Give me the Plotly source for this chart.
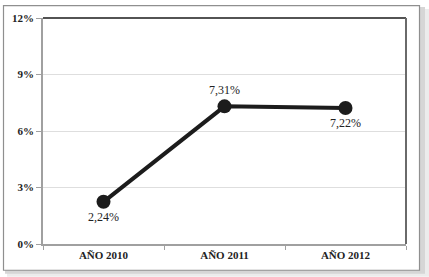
import plotly.graph_objects as go

categories = ["AÑO 2010", "AÑO 2011", "AÑO 2012"]
values = [2.24, 7.31, 7.22]
labels = ["2,24%", "7,31%", "7,22%"]
label_positions = ["bottom center", "top center", "bottom center"]
y_ticks = [0, 3, 6, 9, 12]
y_tick_labels = ["0%", "3%", "6%", "9%", "12%"]

W, H = 429, 277
L, R, T, B = 43, 406, 16, 244
SERIF = "Liberation Serif, Times New Roman, serif"


def px(x):
    return (x - L) / (R - L)


def py(y):
    return (B - y) / (B - T)


fig = go.Figure()
fig.add_trace(go.Scatter(
    x=categories, y=values, mode="lines+markers+text",
    line=dict(color="#1c1c1c", width=4),
    marker=dict(size=14, color="#1c1c1c"),
    text=labels, textposition=label_positions,
    textfont=dict(family=SERIF, size=12, color="#222222"),
    cliponaxis=False, hoverinfo="skip",
))

shapes = [
    # shadow
    dict(type="rect", xref="paper", yref="paper", x0=px(7), x1=px(429), y0=py(7), y1=py(277),
         fillcolor="#ececec", line=dict(width=0), layer="below"),
    dict(type="rect", xref="paper", yref="paper", x0=px(5), x1=px(425), y0=py(5), y1=py(274),
         fillcolor="#d6d6d6", line=dict(width=0), layer="below"),
    # frame
    dict(type="rect", xref="paper", yref="paper", x0=px(3.5), x1=px(419.5), y0=py(3.5), y1=py(270.5),
         fillcolor="white", line=dict(color="#8f8f8f", width=1.2), layer="below"),
    # plot top border
    dict(type="line", xref="paper", yref="paper", x0=0, x1=1, y0=1, y1=1,
         line=dict(color="#1a1a1a", width=1.5)),
    # plot right border
    dict(type="line", xref="paper", yref="paper", x0=1, x1=1, y0=0, y1=1,
         line=dict(color="#6a6a6a", width=2)),
]

fig.update_layout(
    width=W, height=H,
    margin=dict(l=L, r=W - R, t=T, b=H - B),
    paper_bgcolor="white", plot_bgcolor="white",
    showlegend=False, shapes=shapes,
    xaxis=dict(
        type="category", range=[-0.5, 2.5], tickson="boundaries",
        ticks="outside", ticklen=4, tickcolor="#a0a0a0",
        showline=True, linecolor="#a0a0a0", linewidth=1.5,
        showgrid=False, zeroline=False,
        tickfont=dict(family=SERIF, size=11, color="#222222", weight="bold"),
    ),
    yaxis=dict(
        range=[0, 12], tickvals=y_ticks, ticktext=y_tick_labels,
        ticks="outside", ticklen=5, tickcolor="#a0a0a0",
        showline=True, linecolor="#a0a0a0", linewidth=1.5,
        showgrid=True, gridcolor="#dedede", gridwidth=1, zeroline=False,
        tickfont=dict(family=SERIF, size=11, color="#222222", weight="bold"),
    ),
)

fig.write_html(
    "out.html",
    config={"displayModeBar": False},
    post_script="document.body.style.margin='0';document.body.style.padding='0';",
)
